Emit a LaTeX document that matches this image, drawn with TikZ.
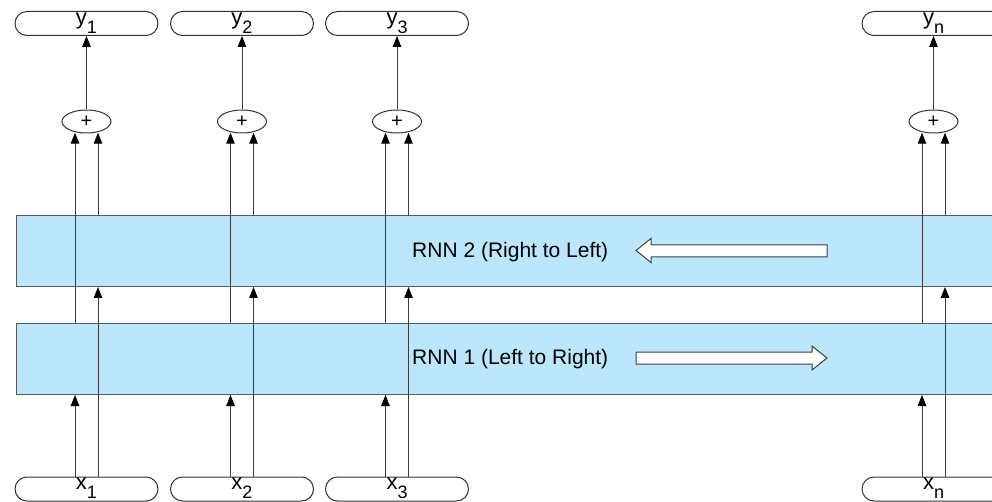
\documentclass[tikz,border=0pt]{standalone}
\usepackage{fontspec}
\setmainfont{Liberation Sans}
\usetikzlibrary{shapes.geometric,arrows.meta}
\definecolor{boxfill}{RGB}{187,230,251}
\definecolor{boxline}{RGB}{90,90,90}
\definecolor{wire}{RGB}{60,60,60}
\begin{document}
\begin{tikzpicture}[x=1pt,y=-1pt,
  pill/.style={draw=black!80, line width=1pt, rounded corners=12pt, minimum width=143pt, minimum height=24pt, inner sep=0pt},
  rnnbox/.style={draw=boxline, fill=boxfill, line width=1pt, minimum height=71pt, minimum width=1000pt, inner sep=0pt, anchor=north west},
  sumnode/.style={ellipse, draw=black!80, line width=1pt, minimum width=49pt, minimum height=23pt, inner sep=0pt, font=\fontsize{20}{20}\selectfont},
  arr/.style={draw=wire, line width=1pt, -{Triangle[length=11pt,width=8.5pt,color=black]}},
  lbl/.style={font=\fontsize{22}{22}\selectfont, inner sep=0pt, anchor=base},
  rnntext/.style={font=\fontsize{21}{21}\selectfont, inner sep=0pt, anchor=base west},
  blockarrow/.style={draw=wire, fill=white, line width=1pt}]
\clip (0,0) rectangle (992,502);
\fill[white] (0,0) rectangle (992,502);
% RNN layers
\node[rnnbox] (rnn2) at (16,215) {};
\node[rnnbox] (rnn1) at (16,323) {};
\node[rnntext] (t2) at (412,258) {RNN 2 (Right to Left)};
\node[rnntext] (t1) at (412,364) {RNN 1 (Left to Right)};
% block arrows
\draw[blockarrow] (636,250.5) -- (651,238.5) -- (651,245) -- (827,245) -- (827,257) -- (651,257) -- (651,262.5) -- cycle;
\draw[blockarrow] (827,358) -- (812,346) -- (812,352) -- (636,352) -- (636,364) -- (812,364) -- (812,370) -- cycle;
% columns
\foreach \i/\c in {1/86.5, 2/242, 3/397, n/933.5}{
  \node[pill] (y\i) at (\c,23.5) {};
  \node[lbl] (ly\i) at (\c,24.5) {y\raisebox{-9pt}{\fontsize{18}{18}\selectfont \i}};
  \node[pill] (x\i) at (\c,489) {};
  \node[lbl] (lx\i) at (\c,489.5) {x\raisebox{-8.5pt}{\fontsize{18}{18}\selectfont \i}};
  \node[sumnode] (p\i) at (\c,121.5) {+};
  \coordinate (l\i) at (\c-11.5,0);
  \coordinate (r\i) at (\c+11.5,0);
  \draw[arr] (x\i.north -| l\i) -- (rnn1.south -| l\i);
  \draw[arr, shorten >=-0.8pt] (rnn1.north -| l\i) -- (p\i.south -| l\i);
  \draw[arr] (x\i.north -| r\i) -- (rnn2.south -| r\i);
  \draw[arr, shorten >=-0.8pt] (rnn2.north -| r\i) -- (p\i.south -| r\i);
  \draw[arr] (p\i.north) -- (y\i.south);
}
\end{tikzpicture}
\end{document}
